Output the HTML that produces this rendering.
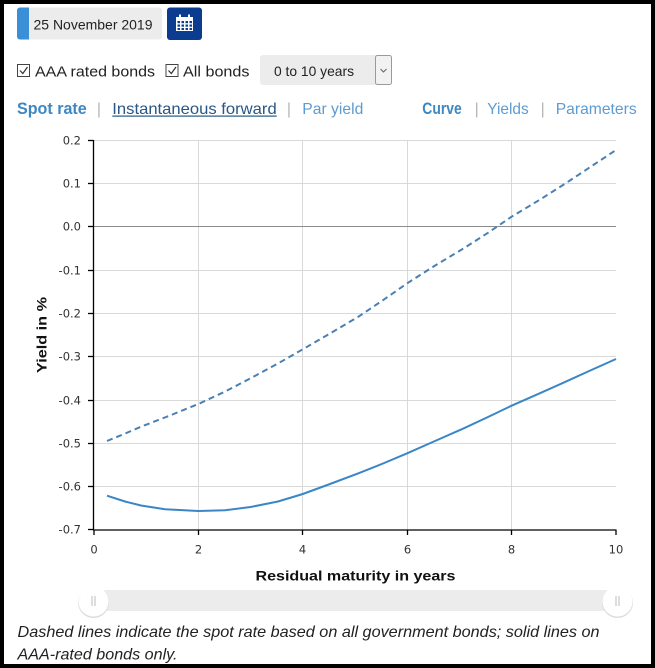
<!DOCTYPE html>
<html><head><meta charset="utf-8"><style>
html,body{margin:0;padding:0;background:#fff;}
svg{display:block;}
text{font-family:"Liberation Sans","DejaVu Sans",sans-serif;}
.ax text{font-family:"DejaVu Sans","Liberation Sans",sans-serif;font-size:11.5px;fill:#333;}
</style></head><body>
<svg width="655" height="668" viewBox="0 0 655 668" xmlns="http://www.w3.org/2000/svg">
<rect x="0" y="0" width="655" height="668" fill="#000"/>
<rect x="4" y="4" width="647" height="660" fill="#fff"/>

<!-- date field -->
<rect x="17" y="7.5" width="145" height="32" rx="3" fill="#ececec"/>
<rect x="17" y="7.5" width="12" height="32" rx="3" fill="#3a8fd6"/>
<rect x="24" y="7.5" width="5" height="32" fill="#3a8fd6"/>
<text x="33.5" y="29.5" font-size="14" fill="#222" textLength="119" lengthAdjust="spacingAndGlyphs">25 November 2019</text>
<!-- calendar button -->
<rect x="167" y="7.5" width="35" height="32.5" rx="3" fill="#0b3c8f"/>
<g fill="#fff">
<rect x="176" y="17" width="17" height="14"/>
<rect x="179" y="14.5" width="2" height="4"/>
<rect x="188" y="14.5" width="2" height="4"/>
</g>
<g fill="#0b3c8f">
<rect x="177.5" y="21" width="2.5" height="2.2"/><rect x="181.5" y="21" width="2.5" height="2.2"/><rect x="185.5" y="21" width="2.5" height="2.2"/><rect x="189.5" y="21" width="2.5" height="2.2"/>
<rect x="177.5" y="24.5" width="2.5" height="2.2"/><rect x="181.5" y="24.5" width="2.5" height="2.2"/><rect x="185.5" y="24.5" width="2.5" height="2.2"/><rect x="189.5" y="24.5" width="2.5" height="2.2"/>
<rect x="177.5" y="28" width="2.5" height="2"/><rect x="181.5" y="28" width="2.5" height="2"/><rect x="185.5" y="28" width="2.5" height="2"/><rect x="189.5" y="28" width="2.5" height="2"/>
</g>

<!-- checkboxes -->
<rect x="17.5" y="64.5" width="12" height="12" fill="none" stroke="#444" stroke-width="1"/>
<polyline points="20,70.5 22.8,73.5 27.5,67" fill="none" stroke="#333" stroke-width="1.2"/>
<text x="35" y="76.5" font-size="15" fill="#222" textLength="120" lengthAdjust="spacingAndGlyphs">AAA rated bonds</text>
<rect x="166" y="64.5" width="12" height="12" fill="none" stroke="#444" stroke-width="1"/>
<polyline points="168.5,70.5 171.3,73.5 176,67" fill="none" stroke="#333" stroke-width="1.2"/>
<text x="183" y="76.5" font-size="15" fill="#222" textLength="66.5" lengthAdjust="spacingAndGlyphs">All bonds</text>
<!-- select -->
<rect x="260" y="55" width="131.5" height="30" rx="3" fill="#ececec"/>
<text x="274" y="76" font-size="14" fill="#222" textLength="80" lengthAdjust="spacingAndGlyphs">0 to 10 years</text>
<rect x="375.5" y="55.5" width="16" height="29" rx="2" fill="#f2f2f2" stroke="#9a9a9a" stroke-width="1"/>
<polyline points="380.5,69 383.5,72 386.5,69" fill="none" stroke="#666" stroke-width="1"/>

<!-- link rows -->
<text x="17" y="114" font-size="17" font-weight="bold" fill="#3d87c3" textLength="69.7" lengthAdjust="spacingAndGlyphs">Spot rate</text>
<text x="99" y="114" font-size="16" fill="#b5b5b5" text-anchor="middle">|</text>
<text x="112.3" y="114" font-size="16" fill="#285785" textLength="164.4" lengthAdjust="spacingAndGlyphs">Instantaneous forward</text>
<rect x="112.3" y="115.5" width="164.4" height="1.2" fill="#285785"/>
<text x="289" y="114" font-size="16" fill="#b5b5b5" text-anchor="middle">|</text>
<text x="302.3" y="114" font-size="16" fill="#5d9bd1" textLength="61" lengthAdjust="spacingAndGlyphs">Par yield</text>
<text x="422.3" y="114" font-size="16.5" font-weight="bold" fill="#3d87c3" textLength="39.4" lengthAdjust="spacingAndGlyphs">Curve</text>
<text x="476.7" y="114" font-size="16" fill="#b5b5b5" text-anchor="middle">|</text>
<text x="487.3" y="114" font-size="16" fill="#5d9bd1" textLength="41.4" lengthAdjust="spacingAndGlyphs">Yields</text>
<text x="542.7" y="114" font-size="16" fill="#b5b5b5" text-anchor="middle">|</text>
<text x="555.7" y="114" font-size="16" fill="#5d9bd1" textLength="81" lengthAdjust="spacingAndGlyphs">Parameters</text>

<!-- grid -->
<g stroke="#d9d9d9" stroke-width="1">
<line x1="93.5" y1="140.5" x2="616" y2="140.5"/>
<line x1="93.5" y1="183.5" x2="616" y2="183.5"/>
<line x1="93.5" y1="270.5" x2="616" y2="270.5"/>
<line x1="93.5" y1="313.5" x2="616" y2="313.5"/>
<line x1="93.5" y1="356.5" x2="616" y2="356.5"/>
<line x1="93.5" y1="400.5" x2="616" y2="400.5"/>
<line x1="93.5" y1="443.5" x2="616" y2="443.5"/>
<line x1="93.5" y1="486.5" x2="616" y2="486.5"/>
<line x1="198.5" y1="140" x2="198.5" y2="530"/>
<line x1="302.5" y1="140" x2="302.5" y2="530"/>
<line x1="407.5" y1="140" x2="407.5" y2="530"/>
<line x1="511.5" y1="140" x2="511.5" y2="530"/>
</g>
<line x1="93.5" y1="226.5" x2="616" y2="226.5" stroke="#8c8c8c" stroke-width="1"/>
<!-- axes -->
<g stroke="#000" stroke-width="1.3">
<line x1="93.5" y1="140" x2="93.5" y2="530.5"/>
<line x1="93" y1="530" x2="616.5" y2="530"/>
<line x1="88" y1="140.5" x2="93.5" y2="140.5"/>
<line x1="88" y1="183.5" x2="93.5" y2="183.5"/>
<line x1="88" y1="226.5" x2="93.5" y2="226.5"/>
<line x1="88" y1="270.5" x2="93.5" y2="270.5"/>
<line x1="88" y1="313.5" x2="93.5" y2="313.5"/>
<line x1="88" y1="356.5" x2="93.5" y2="356.5"/>
<line x1="88" y1="400.5" x2="93.5" y2="400.5"/>
<line x1="88" y1="443.5" x2="93.5" y2="443.5"/>
<line x1="88" y1="486.5" x2="93.5" y2="486.5"/>
<line x1="88" y1="529.5" x2="93.5" y2="529.5"/>
<line x1="94" y1="530" x2="94" y2="535"/>
<line x1="198.5" y1="530" x2="198.5" y2="535"/>
<line x1="302.5" y1="530" x2="302.5" y2="535"/>
<line x1="407.5" y1="530" x2="407.5" y2="535"/>
<line x1="511.5" y1="530" x2="511.5" y2="535"/>
<line x1="616" y1="530" x2="616" y2="535"/>
</g>
<!-- y labels -->
<g class="ax" text-anchor="end">
<text x="81" y="144.5">0.2</text>
<text x="81" y="187.5">0.1</text>
<text x="81" y="230.5">0.0</text>
<text x="81" y="274.5">-0.1</text>
<text x="81" y="317.5">-0.2</text>
<text x="81" y="360.5">-0.3</text>
<text x="81" y="404.5">-0.4</text>
<text x="81" y="447.5">-0.5</text>
<text x="81" y="490.5">-0.6</text>
<text x="81" y="533.5">-0.7</text>
</g>
<!-- x labels -->
<g class="ax" text-anchor="middle">
<text x="94" y="553.5">0</text>
<text x="198.5" y="553.5">2</text>
<text x="302.5" y="553.5">4</text>
<text x="407.5" y="553.5">6</text>
<text x="511.5" y="553.5">8</text>
<text x="616" y="553.5">10</text>
</g>
<text x="355.5" y="580.7" font-size="14" font-weight="bold" fill="#111" text-anchor="middle" textLength="200" lengthAdjust="spacingAndGlyphs">Residual maturity in years</text>
<text transform="translate(46.5,335) rotate(-90)" font-size="14" font-weight="bold" fill="#111" text-anchor="middle" textLength="76" lengthAdjust="spacingAndGlyphs">Yield in %</text>

<!-- series -->
<path d="M107,441 L125,433.6 L141,426.7 L170,415.5 L198.4,404 L225,391.6 L250.6,378.3 L277,364 L302.8,349.3 L330,333.5 L358.4,316.7 L383,300.2 L407.2,283.3 L435,265.6 L463.8,248.3 L488,232.8 L511.6,216.7 L540,199.6 L565.7,183.3 L590,167.2 L616,150" fill="none" stroke="#4a80b3" stroke-width="2" stroke-dasharray="6,4" stroke-linejoin="round"/>
<path d="M107,495.7 L125,501.5 L141,505.5 L165,509.3 L198.4,511 L225,510.3 L250.6,507 L278,501.5 L302.8,494 L330,484 L358.4,473.3 L383,463.5 L407.2,453.3 L435,441 L463.8,428.3 L488,417 L511.6,405.7 L540,393.2 L565.7,381.7 L590,370.6 L616,359" fill="none" stroke="#3a86c6" stroke-width="2" stroke-linejoin="round"/>

<!-- slider -->
<rect x="90" y="590" width="530" height="21" rx="10" fill="#ececec"/>
<circle cx="93.5" cy="602.5" r="15.5" fill="#dcdcdc"/>
<circle cx="93.5" cy="601.5" r="15" fill="#fff"/>
<line x1="92" y1="596" x2="92" y2="606" stroke="#bdbdbd" stroke-width="1"/>
<line x1="95" y1="596" x2="95" y2="606" stroke="#bdbdbd" stroke-width="1"/>
<circle cx="617.5" cy="602.5" r="15.5" fill="#dcdcdc"/>
<circle cx="617.5" cy="601.5" r="15" fill="#fff"/>
<line x1="616" y1="596" x2="616" y2="606" stroke="#bdbdbd" stroke-width="1"/>
<line x1="619" y1="596" x2="619" y2="606" stroke="#bdbdbd" stroke-width="1"/>

<!-- caption -->
<text x="17.5" y="637" font-size="16" font-style="italic" fill="#222" textLength="582" lengthAdjust="spacingAndGlyphs">Dashed lines indicate the spot rate based on all government bonds; solid lines on</text>
<text x="17.5" y="659.5" font-size="16" font-style="italic" fill="#222" textLength="160" lengthAdjust="spacingAndGlyphs">AAA-rated bonds only.</text>
</svg>
</body></html>
